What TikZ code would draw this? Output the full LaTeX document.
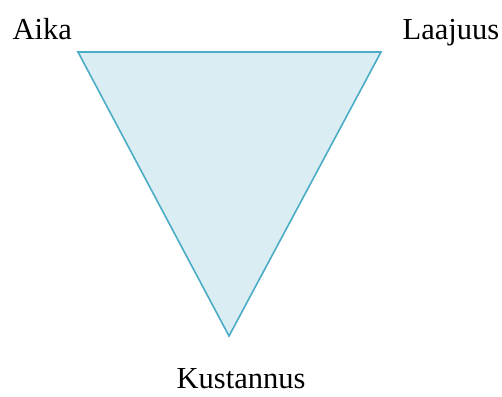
\documentclass[tikz,border=0pt]{standalone}
\usepackage{fontspec}
\setmainfont{Liberation Serif}
\newfontfamily\lblfont{Liberation Serif}
\definecolor{trifill}{HTML}{DAEDF3}
\definecolor{triline}{HTML}{4BACC6}
\begin{document}
\begin{tikzpicture}[x=1pt,y=-1pt,
  lbl/.style={font=\lblfont\fontsize{30.5}{36}\selectfont, inner sep=0pt, anchor=base west},
  tri/.style={fill=trifill, draw=triline, line width=1.6pt, line join=miter}]
\useasboundingbox (0,0) rectangle (502,396);
\coordinate (tl) at (78,52);
\coordinate (tr) at (381,52);
\coordinate (bt) at (229,336);
\draw[tri] (tl) -- (tr) -- (bt) -- cycle;
\node[lbl] (aika) at (12.5,40) {Aika};
\node[lbl] (laajuus) at (402.5,39.5) {Laajuus};
\node[lbl] (kust) at (176.5,388) {Kustannus};
\end{tikzpicture}
\end{document}
